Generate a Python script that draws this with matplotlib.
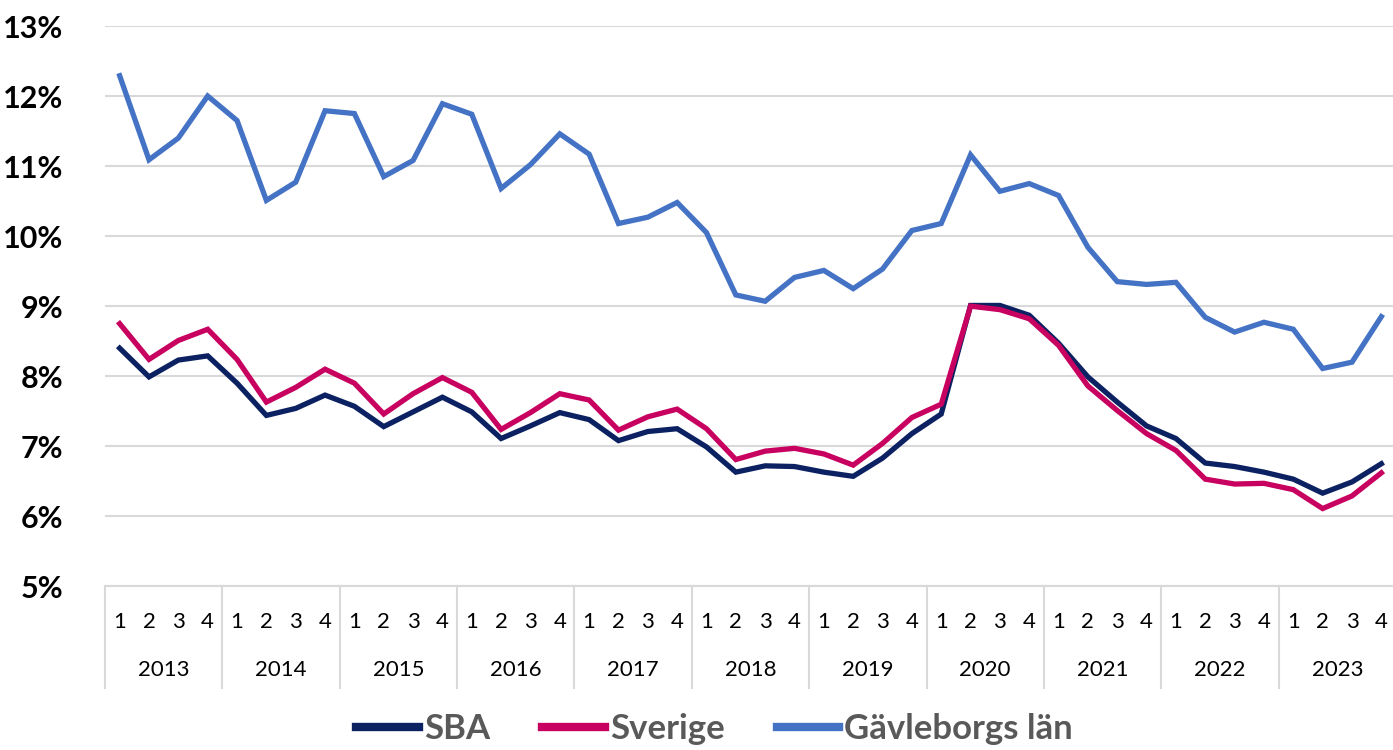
import numpy as np
import matplotlib.pyplot as plt
import matplotlib.transforms as mtransforms

plt.rcParams['font.family'] = ['Lato', 'DejaVu Sans']

# data: quarterly share (%), 2013 Q1 - 2023 Q4
years = ['2013', '2014', '2015', '2016', '2017', '2018', '2019', '2020', '2021', '2022', '2023']
quarters = ['1', '2', '3', '4']

sba = [8.40, 7.99, 8.23, 8.29, 7.90, 7.44, 7.54, 7.73, 7.57, 7.28, 7.49, 7.70,
       7.49, 7.11, 7.29, 7.48, 7.38, 7.08, 7.21, 7.25, 6.99, 6.63, 6.72, 6.71,
       6.63, 6.57, 6.83, 7.18, 7.46, 9.01, 9.01, 8.87, 8.47, 7.99, 7.63, 7.29,
       7.11, 6.76, 6.71, 6.63, 6.53, 6.33, 6.49, 6.75]
sverige = [8.75, 8.24, 8.51, 8.67, 8.24, 7.63, 7.84, 8.10, 7.90, 7.46, 7.75, 7.98,
           7.77, 7.24, 7.48, 7.75, 7.66, 7.23, 7.42, 7.53, 7.25, 6.81, 6.93, 6.97,
           6.89, 6.73, 7.04, 7.41, 7.60, 9.00, 8.95, 8.82, 8.44, 7.86, 7.51, 7.18,
           6.94, 6.53, 6.46, 6.47, 6.38, 6.11, 6.29, 6.62]
gavleborg = [12.29, 11.09, 11.40, 12.00, 11.65, 10.51, 10.77, 11.79, 11.75, 10.85, 11.08, 11.89,
             11.74, 10.68, 11.02, 11.46, 11.17, 10.18, 10.27, 10.48, 10.05, 9.16, 9.07, 9.41,
             9.51, 9.25, 9.53, 10.08, 10.18, 11.16, 10.64, 10.75, 10.58, 9.84, 9.35, 9.31,
             9.34, 8.84, 8.63, 8.77, 8.67, 8.11, 8.20, 8.85]

x = np.arange(len(sba))

fig = plt.figure(figsize=(13.93, 7.5), dpi=100)
ax = fig.add_axes([105 / 1393, (750 - 586.3) / 750, 1291 / 1393, 560.3 / 750])

ax.plot(x, sba, color='#0b2161', lw=3.8, label='SBA', solid_joinstyle='miter')
ax.plot(x, sverige, color='#c8005f', lw=3.8, label='Sverige', solid_joinstyle='miter')
ax.plot(x, gavleborg, color='#4472c4', lw=3.8, label='Gävleborgs län', solid_joinstyle='miter')

ax.set_xlim(-0.5, len(x) - 0.5)
ax.set_ylim(5, 13)
ax.set_yticks(range(5, 14))
ax.set_yticklabels([f'{v}%' for v in range(5, 14)], fontsize=22, fontweight='bold')
ax.tick_params(axis='y', length=0, pad=30)
ax.set_xticks([])
ax.grid(axis='y', color='#d9d9d9', lw=1.5)
ax.set_axisbelow(True)
for s in ['top', 'right', 'left']:
    ax.spines[s].set_visible(False)
ax.spines['bottom'].set_color('#d9d9d9')
ax.spines['bottom'].set_linewidth(1.5)

# two-level category axis
trans = mtransforms.blended_transform_factory(ax.transData, ax.transAxes)
for i in range(len(x)):
    ax.text(x[i], -0.064, quarters[i % 4], transform=trans, ha='center', va='center',
            fontsize=16, color='black')
for j, yr in enumerate(years):
    ax.text(j * 4 + 1.5, -0.149, yr, transform=trans, ha='center', va='center',
            fontsize=16, color='black')
for j in range(len(years) + 1):
    ax.plot([j * 4 - 0.5, j * 4 - 0.5], [0, -0.182], transform=trans, color='#d9d9d9',
            lw=1.5, clip_on=False)

leg = fig.legend(loc='lower center', bbox_to_anchor=(0.513, -0.035), ncol=3, frameon=False,
                 handlelength=1.8, handletextpad=0.15, columnspacing=1.5,
                 prop={'size': 25, 'weight': 'bold'})
for t in leg.get_texts():
    t.set_color('#595959')
for h in leg.get_lines():
    h.set_linewidth(6)

fig.savefig('out.png', dpi=100)
